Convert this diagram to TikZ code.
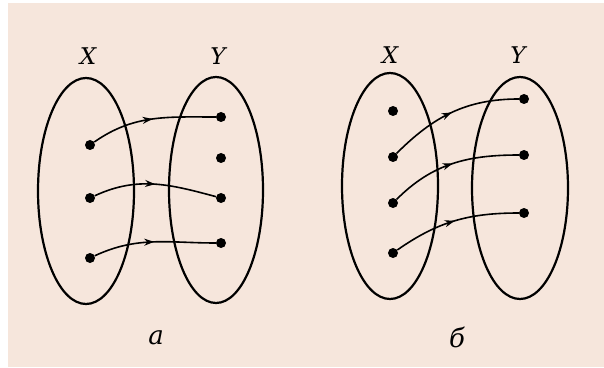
\documentclass[tikz,border=0pt]{standalone}
\usepackage{fontspec}
\setmainfont{DejaVu Serif}
\usetikzlibrary{arrows.meta,decorations.markings,shapes.geometric}
\definecolor{paper}{HTML}{F6E6DC}
\begin{document}
\begin{tikzpicture}[x=1pt,y=1pt,font=\fontsize{23}{25}\selectfont\itshape,
  set/.style={draw,ellipse,line width=2.2pt,inner sep=0pt,minimum width=96pt},
  pt/.style={circle,fill,inner sep=0pt,minimum size=10pt},
  caption/.style={font=\fontsize{26}{28}\selectfont\itshape},
  map/.style={line width=1.6pt,postaction={decorate},decoration={markings,
    mark=at position 0.5 with {\arrow{Stealth[length=10pt,width=7pt]}}}}]
\fill[white] (0,0) rectangle (604,367);
\fill[paper] (8,0) rectangle (604,364);
% a
\node[set,minimum height=226pt] (Xa) at (86,176) {};
\node[set,minimum height=226pt,minimum width=94pt] (Ya) at (216,177) {};
\node (lXa) at (88,311) {X};
\node (lYa) at (218,311) {Y};
\node[caption] (capa) at (156,29) {а};
\node[pt] (xa1) at (90,222) {};
\node[pt] (xa2) at (90,169) {};
\node[pt] (xa3) at (90,109) {};
\node[pt] (ya1) at (221,250) {};
\node[pt] (ya2) at (221,209) {};
\node[pt] (ya3) at (221,169) {};
\node[pt] (ya4) at (221,124) {};
\draw[map] (xa1) to[out=35,in=180] (ya1);
\draw[map] (xa2) to[out=25,in=165] (ya3);
\draw[map] (xa3) to[out=25,in=180] (ya4);
% b
\node[set,minimum height=226pt] (Xb) at (390,181) {};
\node[set,minimum height=222pt] (Yb) at (520,179) {};
\node (lXb) at (390,312) {X};
\node (lYb) at (518,312) {Y};
\node[caption] (capb) at (457,30) {б};
\foreach \n/\y in {1/256,2/210,3/164,4/114} \node[pt] (xb\n) at (393,\y) {};
\foreach \n/\y in {1/268,2/212,3/154} \node[pt] (yb\n) at (524,\y) {};
\foreach \a/\b/\o in {2/1/45,3/2/45,4/3/35} \draw[map] (xb\a) to[out=\o,in=180] (yb\b);
\end{tikzpicture}
\end{document}
